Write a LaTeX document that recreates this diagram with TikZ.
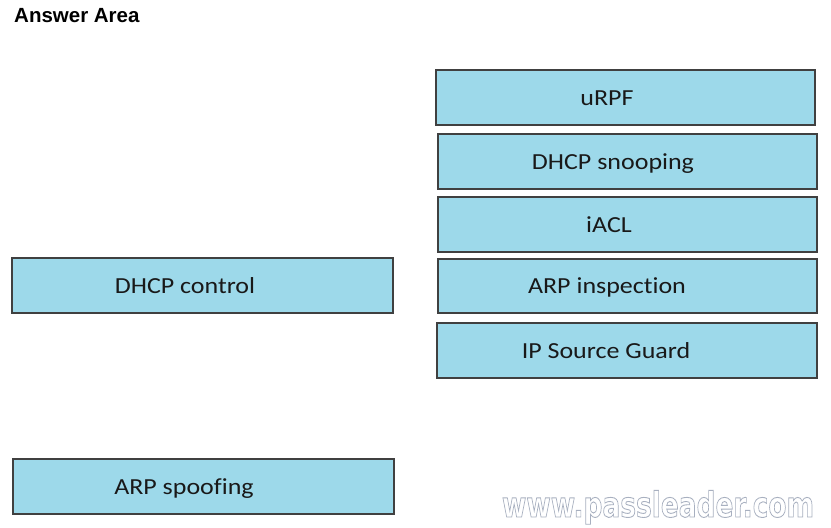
\documentclass[tikz,border=0pt]{standalone}
\usepackage{fontspec}
\setmainfont{Carlito}[Ligatures={NoCommon}]
\newfontfamily\titlefont{Liberation Sans}
\newfontfamily\wmfont{DejaVu Sans}
\definecolor{boxfill}{HTML}{9DD9EA}
\definecolor{boxline}{HTML}{404040}
\definecolor{wmline}{HTML}{A8B0C0}
\tikzset{
  box/.style={draw=boxline, fill=boxfill, line width=1.4pt, rectangle, inner sep=0pt},
  lbl/.style={inner sep=0pt, anchor=base, xscale=1.13, font=\fontsize{23}{26}\selectfont, text=black!90},
}
\begin{document}
\begin{tikzpicture}[x=1pt,y=-1pt]
\useasboundingbox[fill=white] (0,0) rectangle (831,528);
\node[anchor=west, inner sep=0pt, font=\titlefont\bfseries\fontsize{20.5}{24}\selectfont] (title) at (14,16) {Answer Area};
% right column
\node[box, minimum width=379pt, minimum height=55pt] (b1) at (625.5,97.5) {};
\node[lbl] (t1) at (607,105.3) {uRPF};
\node[box, minimum width=379pt, minimum height=55pt] (b2) at (627.5,161.5) {};
\node[lbl] (t2) at (613,169.3) {DHCP snooping};
\node[box, minimum width=379pt, minimum height=55pt] (b3) at (627.5,224.5) {};
\node[lbl] (t3) at (609,232.3) {iACL};
\node[box, minimum width=379pt, minimum height=54pt] (b4) at (627.5,286) {};
\node[lbl] (t4) at (607,293.8) {ARP inspection};
\node[box, minimum width=380pt, minimum height=55pt] (b5) at (627,350.5) {};
\node[lbl] (t5) at (606,358.3) {IP Source Guard};
% left column
\node[box, minimum width=381pt, minimum height=55pt] (l1) at (202.5,285.5) {};
\node[lbl] (s1) at (185,293.3) {DHCP control};
\node[box, minimum width=381pt, minimum height=55pt] (l2) at (203.5,486.5) {};
\node[lbl] (s2) at (184,494.3) {ARP spoofing};
% watermark
\node[inner sep=0pt, anchor=base, text=wmline, xscale=0.755, font=\wmfont\bfseries\fontsize{35}{38}\selectfont] (wm) at (658,517)
  {\special{pdf:literal direct 1 Tr 0.9 w}www.passleader.com\special{pdf:literal direct 0 Tr}};
\end{tikzpicture}
\end{document}
